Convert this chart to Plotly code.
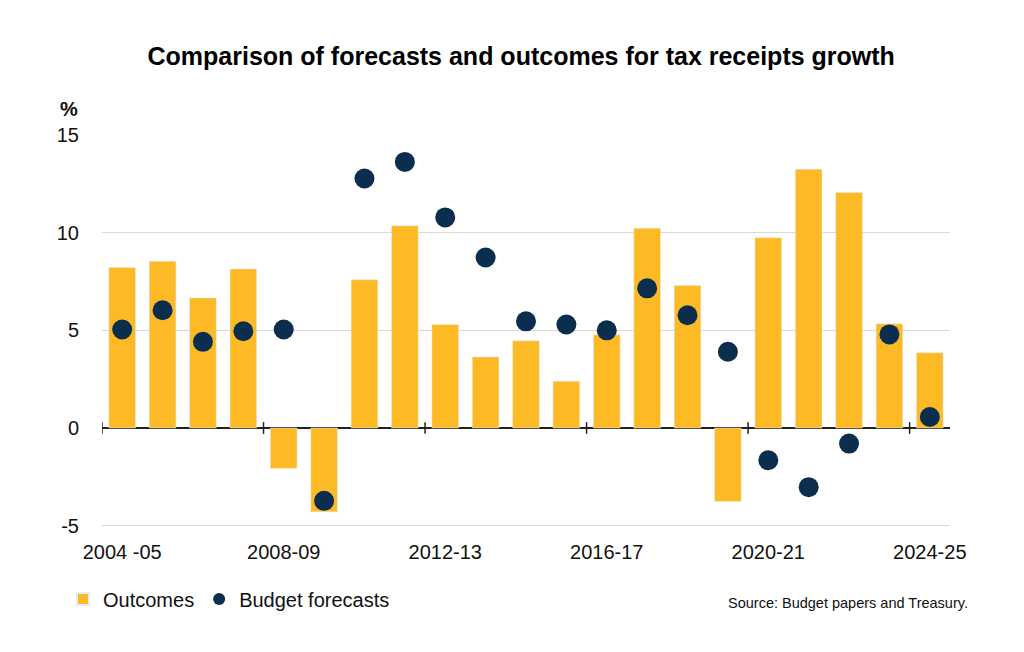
import plotly.graph_objects as go

years = ["2004-05", "2005-06", "2006-07", "2007-08", "2008-09", "2009-10", "2010-11",
         "2011-12", "2012-13", "2013-14", "2014-15", "2015-16", "2016-17", "2017-18",
         "2018-19", "2019-20", "2020-21", "2021-22", "2022-23", "2023-24", "2024-25"]
outcomes = [8.22, 8.53, 6.66, 8.14, -2.07, -4.29, 7.59, 10.35, 5.30, 3.64, 4.46,
            2.39, 4.77, 10.23, 7.29, -3.76, 9.74, 13.25, 12.05, 5.33, 3.85]
forecasts = [5.04, 6.03, 4.41, 4.95, 5.04, -3.73, 12.77, 13.62, 10.78, 8.73, 5.46,
             5.30, 5.00, 7.15, 5.77, 3.90, -1.65, -3.03, -0.80, 4.79, 0.56]
tick_idx = [0, 4, 8, 12, 16, 20]
tick_text = ["2004 -05", "2008-09", "2012-13", "2016-17", "2020-21", "2024-25"]
y_ticks = [-5, 0, 5, 10, 15]
y_ticktext = ["-5", "0", "5", "10", "15"]

x = list(range(len(years)))
GOLD = "#FDBA25"
NAVY = "#0B2D4E"
FONT = "Liberation Sans, Arial, sans-serif"

fig = go.Figure()
fig.add_trace(go.Bar(x=x, y=outcomes, name="Outcomes", marker_color=GOLD,
                     width=0.66, hovertext=years))
fig.add_trace(go.Scatter(x=x, y=forecasts, name="Budget forecasts", mode="markers",
                         marker=dict(color=NAVY, size=20), hovertext=years))

# small tick marks crossing the zero line at category boundaries
for i in tick_idx:
    fig.add_shape(type="line", x0=i - 0.5, x1=i - 0.5, y0=-0.3, y1=0.3,
                  line=dict(color="#222222", width=1.5), layer="above")

fig.update_layout(
    width=1024, height=652,
    margin=dict(l=102, r=74, t=134, b=124),
    plot_bgcolor="white", paper_bgcolor="white",
    font=dict(family=FONT, size=20, color="#111111"),
    title=dict(text="<b>Comparison of forecasts and outcomes for tax receipts growth</b>",
               x=0.509, xanchor="center", y=0.913, yanchor="middle",
               font=dict(size=25, color="#000000")),
    bargap=0.34,
    showlegend=True,
    legend=dict(orientation="h", x=-0.046, xanchor="left", y=-0.18, yanchor="middle",
                font=dict(size=20), itemsizing="constant", traceorder="normal",
                tracegroupgap=0),
    xaxis=dict(range=[-0.5, 20.5], tickmode="array", tickvals=tick_idx, ticktext=tick_text,
               showgrid=False, zeroline=False, showline=False, ticks="",
               tickfont=dict(size=20), ticklabelstandoff=10),
    yaxis=dict(range=[-5.12, 15.05], tickmode="array", tickvals=y_ticks,
               ticktext=y_ticktext, showgrid=True,
               gridcolor="#D9D9D9", gridwidth=1.2, zeroline=True, zerolinecolor="#222222",
               zerolinewidth=1.5, ticks="", showline=False, tickfont=dict(size=20),
               ticklabelstandoff=22),
    annotations=[
        dict(text="<b>%</b>", xref="paper", yref="paper", x=-0.026, y=1.063,
             xanchor="right", yanchor="middle", showarrow=False, font=dict(size=20)),
        dict(text="Source: Budget papers and Treasury.", xref="paper", yref="paper",
             x=1.0236, y=-0.19, xanchor="right", yanchor="middle", showarrow=False,
             font=dict(size=14.5)),
    ],
)

fig.write_html("out.html")
